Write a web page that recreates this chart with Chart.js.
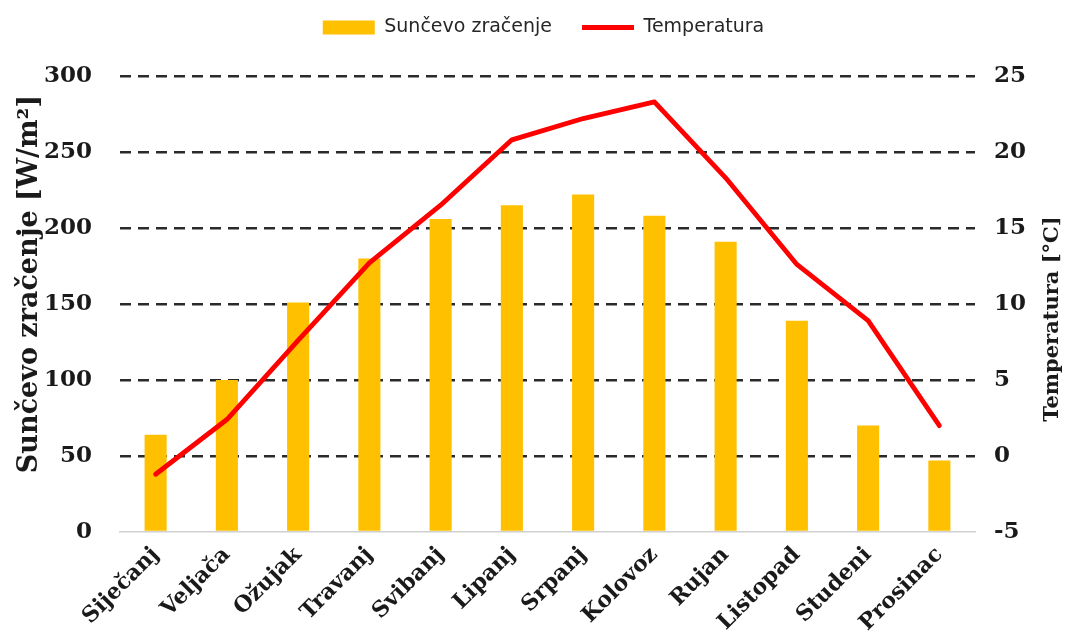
<!DOCTYPE html>
<html lang="hr">
<head>
    <meta charset="UTF-8" />
    <title>Sunčevo zračenje i temperatura</title>
    <script src="https://cdn.jsdelivr.net/npm/chart.js"></script>
    <style>
        html, body { margin: 0; padding: 0; background: #fff; }
        #wrap { width: 1075px; height: 643px; }
    </style>
</head>
<body>
    <div id="wrap"><canvas id="chart" width="1075" height="643"></canvas></div>

    <script>
        const months = ['Siječanj', 'Veljača', 'Ožujak', 'Travanj', 'Svibanj', 'Lipanj',
            'Srpanj', 'Kolovoz', 'Rujan', 'Listopad', 'Studeni', 'Prosinac'];
        // W/m2
        const radiation = [64, 100, 151, 180, 206, 215, 222, 208, 191, 139, 70, 47];
        // °C
        const temperature = [-1.2, 2.4, 7.6, 12.7, 16.5, 20.8, 22.2, 23.3, 18.3, 12.6, 8.9, 2.0];

        const leftTitle = 'Sunčevo zračenje [W/m²]';
        const rightTitle = 'Temperatura [°C]';

        const serif = 'DejaVu Serif';
        const ink = '#1a1a1a';

        // legend box is made taller so the plot starts lower, like the original
        const legendSpace = {
            id: 'legendSpace',
            afterInit(chart) {
                const fit = chart.legend.fit;
                chart.legend.fit = function () {
                    fit.call(this);
                    this.height = 88;
                };
            }
        };

        // both axis titles read bottom-to-top, so draw them by hand
        const axisTitles = {
            id: 'axisTitles',
            afterDraw(chart) {
                const { ctx, chartArea, scales } = chart;
                const mid = (chartArea.top + chartArea.bottom) / 2;
                ctx.save();
                ctx.fillStyle = ink;
                ctx.textAlign = 'center';
                ctx.textBaseline = 'middle';

                ctx.font = `bold 27px "${serif}"`;
                ctx.save();
                ctx.translate(scales.y.left + 18, mid - 20);
                ctx.rotate(-Math.PI / 2);
                ctx.fillText(leftTitle, 0, 0);
                ctx.restore();

                ctx.font = `bold 21px "${serif}"`;
                ctx.save();
                ctx.translate(scales.y1.right - 22, mid + 15);
                ctx.rotate(-Math.PI / 2);
                ctx.fillText(rightTitle, 0, 0);
                ctx.restore();

                ctx.restore();
            }
        };

        new Chart(document.getElementById('chart').getContext('2d'), {
            data: {
                labels: months,
                datasets: [
                    {
                        type: 'bar',
                        label: 'Sunčevo zračenje',
                        data: radiation,
                        backgroundColor: '#FFC000',
                        borderWidth: 0,
                        categoryPercentage: 1,
                        barPercentage: 0.31,
                        yAxisID: 'y',
                        order: 1
                    },
                    {
                        type: 'line',
                        label: 'Temperatura',
                        data: temperature,
                        borderColor: '#FF0000',
                        backgroundColor: '#FF0000',
                        borderWidth: 4.8,
                        borderJoinStyle: 'round',
                        borderCapStyle: 'round',
                        pointRadius: 0,
                        tension: 0,
                        yAxisID: 'y1',
                        order: 0
                    }
                ]
            },
            plugins: [legendSpace, axisTitles],
            options: {
                responsive: false,
                animation: false,
                layout: { padding: { left: 12, right: 0, top: -12, bottom: 0 } },
                plugins: {
                    tooltip: { enabled: false },
                    legend: {
                        position: 'top',
                        labels: {
                            usePointStyle: true,
                            pointStyleWidth: 52,
                            boxHeight: 14,
                            padding: 30,
                            color: '#262626',
                            font: { family: 'DejaVu Sans', size: 19 },
                            sort: (a, b) => a.datasetIndex - b.datasetIndex,
                            generateLabels: chart => {
                                const base = Chart.defaults.plugins.legend.labels.generateLabels(chart);
                                base.forEach(l => {
                                    l.pointStyle = l.datasetIndex === 0 ? 'rect' : 'line';
                                    if (l.datasetIndex === 1) l.lineWidth = 4.8;
                                });
                                return base;
                            }
                        }
                    }
                },
                scales: {
                    x: {
                        afterFit: s => { s.height = 111; },
                        grid: { display: false },
                        border: { display: true, color: '#d0d0d0', width: 1.5 },
                        ticks: {
                            color: ink,
                            minRotation: 45,
                            maxRotation: 45,
                            padding: 2,
                            font: { family: serif, weight: 'bold', size: 22 }
                        }
                    },
                    y: {
                        position: 'left',
                        min: 0,
                        max: 300,
                        afterFit: s => { s.width = 108; },
                        ticks: {
                            stepSize: 50,
                            padding: 28,
                            color: ink,
                            font: { family: serif, weight: 'bold', size: 23 }
                        },
                        grid: {
                            drawTicks: false,
                            lineWidth: 2.5,
                            color: ctx => ctx.tick && ctx.tick.value === 0 ? 'rgba(0,0,0,0)' : '#2a2a2a'
                        },
                        border: { display: false, dash: [11, 7] }
                    },
                    y1: {
                        position: 'right',
                        min: -5,
                        max: 25,
                        afterFit: s => { s.width = 100; },
                        ticks: {
                            stepSize: 5,
                            padding: 19,
                            color: ink,
                            font: { family: serif, weight: 'bold', size: 23 }
                        },
                        grid: { drawOnChartArea: false, drawTicks: false },
                        border: { display: false }
                    }
                }
            }
        });
    </script>
</body>
</html>
